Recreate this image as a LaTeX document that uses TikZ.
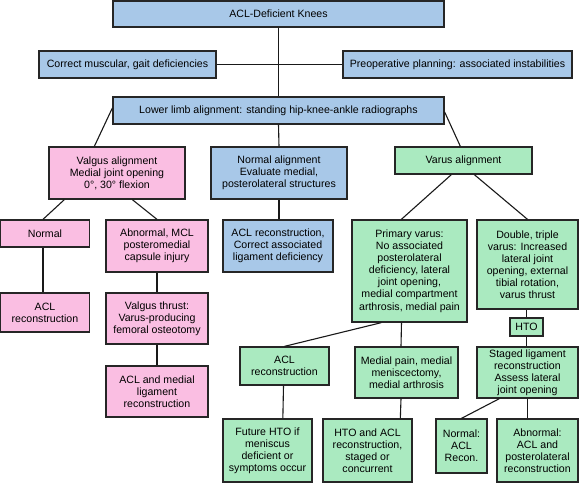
\documentclass[tikz,border=0pt]{standalone}
\usepackage{fontspec}
\setmainfont{Liberation Sans}
\definecolor{bbox}{RGB}{168,200,232}
\definecolor{pbox}{RGB}{250,190,226}
\definecolor{gbox}{RGB}{170,234,192}
\begin{document}
\begin{tikzpicture}[x=1pt,y=-1pt,
  box/.style={draw=black!85,line width=1.3pt,inner sep=0pt,align=center,
    font=\fontsize{10.6}{12.1}\selectfont},
  bl/.style={box,fill=bbox},
  pk/.style={box,fill=pbox},
  gr/.style={box,fill=gbox},
  link/.style={line width=1.1pt,draw=black!90}]
\useasboundingbox (0,0) rectangle (579,483);
% level 0-2
\node[bl,minimum width=331,minimum height=26] (top) at (278.5,14) {ACL-Deficient Knees};
\node[bl,minimum width=177,minimum height=27] (cmg) at (127.5,64.5) {Correct muscular, gait deficiencies};
\node[bl,minimum width=229,minimum height=27] (pre) at (457.5,64.5) {Preoperative planning: associated instabilities};
\node[bl,minimum width=331,minimum height=27] (llim) at (278.5,110.5) {Lower limb alignment: standing hip-knee-ankle radiographs};
% level 3
\node[pk,minimum width=136,minimum height=52] (valg) at (117,173) {Valgus alignment\\Medial joint opening\\0°, 30° flexion};
\node[bl,minimum width=136,minimum height=52] (nalign) at (279,173) {Normal alignment\\Evaluate medial,\\posterolateral structures};
\node[gr,minimum width=137,minimum height=27] (varus) at (463.5,160.5) {Varus alignment};
% level 4
\node[pk,minimum width=89,minimum height=27] (normp) at (45,233.5) {Normal};
\node[pk,minimum width=102,minimum height=52] (abn) at (157,246) {Abnormal, MCL\\posteromedial\\capsule injury};
\node[bl,minimum width=110,minimum height=52] (aclb) at (278,246) {ACL reconstruction,\\Correct associated\\ligament deficiency};
\node[gr,minimum width=115,minimum height=102] (prim) at (409.5,271) {Primary varus:\\No associated\\posterolateral\\deficiency, lateral\\joint opening,\\medial compartment\\arthrosis, medial pain};
\node[gr,minimum width=101,minimum height=89] (dbl) at (527.5,264.5) {Double, triple\\varus: Increased\\lateral joint\\opening, external\\tibial rotation,\\varus thrust};
% level 5
\node[pk,minimum width=89,minimum height=39] (aclp) at (45,312.5) {ACL\\reconstruction};
\node[pk,minimum width=102,minimum height=51] (vthr) at (157,318.5) {Valgus thrust:\\Varus-producing\\femoral osteotomy};
\node[gr,minimum width=33,minimum height=18] (hto) at (526.5,327) {HTO};
\node[pk,minimum width=102,minimum height=51] (aclm) at (157,391.5) {ACL and medial\\ligament\\reconstruction};
\node[gr,minimum width=89,minimum height=38] (aclg) at (284.5,366) {ACL\\reconstruction};
\node[gr,minimum width=103,minimum height=51] (medp) at (406.5,372.5) {Medial pain, medial\\meniscectomy,\\medial arthrosis};
\node[gr,minimum width=101,minimum height=51] (stag) at (527.5,372.5) {Staged ligament\\reconstruction\\Assess lateral\\joint opening};
% level 6
\node[gr,minimum width=89,minimum height=63] (fut) at (267.5,450.5) {Future HTO if\\meniscus\\deficient or\\symptoms occur};
\node[gr,minimum width=89,minimum height=63] (htoacl) at (367.5,450.5) {HTO and ACL\\reconstruction,\\staged or\\concurrent};
\node[gr,minimum width=51,minimum height=54] (nrec) at (461.5,446) {Normal:\\ACL\\Recon.};
\node[gr,minimum width=81,minimum height=63] (abn2) at (537.5,450.5) {Abnormal:\\ACL and\\posterolateral\\reconstruction};
% connectors
\draw[link] (top.south) -- (llim.north);
\draw[link] (cmg.east) -- (pre.west);
\draw[link] ([yshift=2.5pt]llim.west) -- ([xshift=46pt]valg.north west);
\draw[link] ([yshift=-1.5pt]llim.east) -- ([xshift=66pt]varus.north west);
\draw[link] (llim.south) -- (nalign.north);
\draw[link] ([xshift=16pt]valg.south west) -- ([xshift=-2pt]normp.north);
\draw[link] ([xshift=84pt]valg.south west) -- (abn.north);
\draw[link] ([xshift=-2pt]normp.south) -- ([xshift=-2pt]aclp.north);
\draw[link] (abn.south) -- (vthr.north);
\draw[link] (vthr.south) -- (aclm.north);
\draw[link] (nalign.south) -- (nalign.south |- aclb.north);
\draw[link] ([xshift=57pt]varus.south west) -- ([xshift=50pt]prim.north west);
\draw[link] ([xshift=80pt]varus.south west) -- (dbl.north);
\draw[link] ([xshift=30pt]prim.south west) -- (aclg.north);
\draw[link] ([xshift=-8pt]prim.south) -- ([xshift=-5.5pt]medp.north);
\draw[link] ([xshift=-5.5pt]medp.south) -- ([xshift=78pt]htoacl.north west);
\draw[link] ([xshift=-1pt]aclg.south) -- ([xshift=60.5pt]fut.north west);
\draw[link] (hto.north) -- (hto.north |- dbl.south);
\draw[link] (hto.south) -- (hto.south |- stag.north);
\draw[link] ([xshift=23pt]stag.south west) -- (nrec.north);
\draw[link] (stag.south) -- (stag.south |- abn2.north);
\end{tikzpicture}
\end{document}
